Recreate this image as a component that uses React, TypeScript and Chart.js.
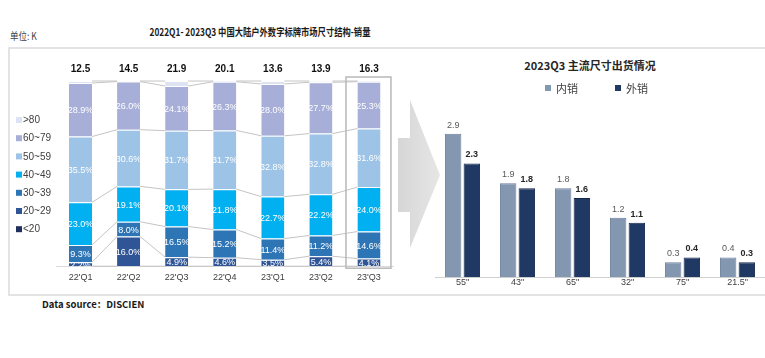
import React, { useEffect, useRef } from 'react';
import { Chart, registerables } from 'chart.js';
Chart.register(...registerables);

// ---------- Left chart data (share %, stacked) ----------
const quarters = ["22'Q1", "22'Q2", "22'Q3", "22'Q4", "23'Q1", "23'Q2", "23'Q3"];
const totals = [12.5, 14.5, 21.9, 20.1, 13.6, 13.9, 16.3];
const sizeLabels = ['<20', '20~29', '30~39', '40~49', '50~59', '60~79', '>80'];
const shareLt20 = [0, 0, 0, 0, 0, 0, 0];
const share20to29 = [2.2, 16.0, 4.9, 4.6, 3.5, 5.4, 4.1];
const share30to39 = [9.3, 8.0, 16.5, 15.2, 11.4, 11.2, 14.6];
const share40to49 = [23.0, 19.1, 20.1, 21.8, 22.7, 22.2, 24.0];
const share50to59 = [35.5, 30.6, 31.7, 31.7, 32.8, 32.8, 31.6];
const share60to79 = [28.9, 26.0, 24.1, 26.3, 28.0, 27.7, 25.3];
const shareGt80 = [1.1, 0.3, 2.7, 0.4, 1.6, 0.7, 0.4];
const sizeColors = ['#1f2f5e', '#2f5597', '#2e75b6', '#00b0f0', '#9dc3e6', '#a7aed8', '#dde3f2'];

// ---------- Right chart data ----------
const mainSizes = ['55"', '43"', '65"', '32"', '75"', '21.5"'];
const domestic = [2.9, 1.9, 1.8, 1.2, 0.3, 0.4];
const exportSales = [2.3, 1.8, 1.6, 1.1, 0.4, 0.3];
const salesLabels = ['内销', '外销'];
const salesColors = ['#8497b0', '#203864'];

const LATIN = '"Liberation Sans", Arial, sans-serif';
const CJK = '"Noto Sans CJK SC", "Liberation Sans", sans-serif';

const leftPlugin = {
  id: 'leftDecor',
  afterDatasetsDraw(chart: any) {
    const ctx = chart.ctx;
    const n = chart.data.datasets.length;
    ctx.save();
    // series connector lines
    ctx.strokeStyle = '#c4c4c4';
    ctx.lineWidth = 1;
    for (let d = 0; d < n; d++) {
      const meta = chart.getDatasetMeta(d);
      for (let i = 0; i < meta.data.length - 1; i++) {
        const a: any = meta.data[i];
        const b: any = meta.data[i + 1];
        ctx.beginPath();
        ctx.moveTo(a.x + a.width / 2, a.y);
        ctx.lineTo(b.x - b.width / 2, b.y);
        ctx.stroke();
      }
    }
    // percentage labels
    ctx.fillStyle = '#ffffff';
    ctx.font = `9px ${LATIN}`;
    ctx.textAlign = 'center';
    ctx.textBaseline = 'middle';
    for (let d = 0; d < n - 1; d++) {
      const meta = chart.getDatasetMeta(d);
      const vals = chart.data.datasets[d].data;
      meta.data.forEach((el: any, i: number) => {
        const v = vals[i];
        if (v >= 2) ctx.fillText(v.toFixed(1) + '%', el.x, (el.y + el.base) / 2 + 1);
      });
    }
    // totals
    const top = chart.getDatasetMeta(n - 1);
    ctx.fillStyle = '#111111';
    ctx.font = `bold 10px ${LATIN}`;
    top.data.forEach((el: any, i: number) => {
      ctx.fillText(totals[i].toFixed(1), el.x, chart.chartArea.top - 12);
    });
    // highlight box on last quarter
    const last: any = top.data[top.data.length - 1];
    ctx.strokeStyle = '#b8b8b8';
    ctx.lineWidth = 1.5;
    ctx.strokeRect(last.x - 23, chart.chartArea.top - 4, 45, chart.chartArea.bottom - chart.chartArea.top + 6);
    // legend (top = largest size)
    ctx.font = `10px ${LATIN}`;
    ctx.textAlign = 'left';
    for (let k = 0; k < n; k++) {
      const d = n - 1 - k;
      const y = chart.chartArea.top + 39 + 18.2 * k;
      ctx.fillStyle = chart.data.datasets[d].backgroundColor;
      ctx.fillRect(8, y - 3, 6, 6);
      ctx.fillStyle = '#404040';
      ctx.fillText(chart.data.datasets[d].label, 15, y + 0.5);
    }
    ctx.restore();
  },
};

const rightPlugin = {
  id: 'rightDecor',
  afterDatasetsDraw(chart: any) {
    const ctx = chart.ctx;
    ctx.save();
    ctx.textAlign = 'center';
    ctx.textBaseline = 'bottom';
    chart.data.datasets.forEach((ds: any, d: number) => {
      const meta = chart.getDatasetMeta(d);
      ctx.font = d === 0 ? `9px ${LATIN}` : `bold 9px ${LATIN}`;
      ctx.fillStyle = d === 0 ? '#595959' : '#262626';
      meta.data.forEach((el: any, i: number) => {
        ctx.fillText(ds.data[i].toFixed(1), el.x, el.y - 4);
      });
    });
    ctx.restore();
  },
};

export default function App() {
  const leftRef = useRef<HTMLCanvasElement>(null);
  const rightRef = useRef<HTMLCanvasElement>(null);

  useEffect(() => {
    const shares = [shareLt20, share20to29, share30to39, share40to49, share50to59, share60to79, shareGt80];
    const left = new Chart(leftRef.current!, {
      type: 'bar',
      data: {
        labels: quarters,
        datasets: sizeLabels.map((lab, k) => ({
          label: lab,
          data: shares[k],
          backgroundColor: sizeColors[k],
          borderColor: 'rgba(255,255,255,0.85)',
          borderWidth: { top: 1 },
          borderSkipped: false,
          barPercentage: 0.48,
          categoryPercentage: 1,
        })),
      },
      options: {
        animation: false,
        responsive: false,
        maintainAspectRatio: false,
        layout: { padding: { top: 29, bottom: 0, left: 48.5, right: 7 } },
        plugins: {
          legend: { display: false },
          tooltip: { enabled: false },
          title: { display: false },
        },
        scales: {
          x: {
            stacked: true,
            grid: { display: false, drawTicks: false },
            border: { display: true, color: '#d9d9d9' },
            ticks: { color: '#404040', padding: 6, font: { size: 9, family: LATIN } },
          },
          y: { stacked: true, min: 0, max: 100, display: false },
        },
      },
      plugins: [leftPlugin],
    } as any);

    const right = new Chart(rightRef.current!, {
      type: 'bar',
      data: {
        labels: mainSizes,
        datasets: [
          {
            label: salesLabels[0],
            data: domestic,
            backgroundColor: salesColors[0],
            borderColor: '#6b7f9c',
            borderWidth: 1,
            barPercentage: 0.88,
            categoryPercentage: 0.68,
          },
          {
            label: salesLabels[1],
            data: exportSales,
            backgroundColor: salesColors[1],
            borderColor: '#16284a',
            borderWidth: 1,
            barPercentage: 0.88,
            categoryPercentage: 0.68,
          },
        ],
      },
      options: {
        animation: false,
        responsive: false,
        maintainAspectRatio: false,
        layout: { padding: { top: 9, bottom: 9, left: 15, right: 0 } },
        plugins: { legend: { display: false }, tooltip: { enabled: false }, title: { display: false } },
        scales: {
          x: {
            grid: { display: false, drawTicks: false },
            border: { display: true, color: '#d0d0d0' },
            ticks: { color: '#404040', padding: 0, font: { size: 9, family: LATIN } },
          },
          y: { min: 0, max: 3.5, display: false },
        },
      },
      plugins: [rightPlugin],
    } as any);

    return () => {
      left.destroy();
      right.destroy();
    };
  }, []);

  const abs = (s: React.CSSProperties): React.CSSProperties => ({ position: 'absolute', ...s });

  return (
    <div style={{ position: 'fixed', left: 0, top: 0, width: 765, height: 358, background: '#ffffff', overflow: 'hidden' }}>
      {/* frame lines */}
      <div style={abs({ left: 8, top: 47, width: 757, height: 2, background: '#e3e3e3' })} />
      <div style={abs({ left: 8, top: 47, width: 2, height: 248, background: '#e3e3e3' })} />
      <div style={abs({ left: 8, top: 294, width: 757, height: 2, background: '#e3e3e3' })} />

      <div style={abs({ left: 10, top: 28, fontFamily: CJK, fontSize: 10, color: '#404040', transform: 'scaleX(0.85)', transformOrigin: 'left center' })}>单位: K</div>
      <div style={abs({ left: 0, top: 24, width: 520, textAlign: 'center', fontFamily: CJK, fontWeight: 'bold', fontSize: 10.5, color: '#1a1a1a', transform: 'scaleX(0.79)', transformOrigin: 'center center', whiteSpace: 'nowrap' })}>
        2022Q1- 2023Q3 中国大陆户外数字标牌市场尺寸结构-销量
      </div>

      <canvas ref={leftRef} width={392} height={237} style={abs({ left: 8, top: 52, width: 392, height: 237 })} />

      <svg width={60} height={170} style={abs({ left: 392, top: 90 })}>
        <defs>
          <linearGradient id="arrowGrad" x1="0" y1="0" x2="1" y2="0">
            <stop offset="0" stopColor="#d6d6d6" />
            <stop offset="1" stopColor="#e6e6e6" />
          </linearGradient>
        </defs>
        <polygon points="6,48 18,48 18,10 48,85 18,158 18,122 6,122" fill="url(#arrowGrad)" />
      </svg>

      <div style={abs({ left: 420, top: 57, width: 340, textAlign: 'center', fontFamily: CJK, fontWeight: 'bold', fontSize: 11, color: '#262626' })}>
        2023Q3 主流尺寸出货情况
      </div>
      <div style={abs({ left: 545, top: 80, display: 'flex', alignItems: 'center', fontFamily: CJK, fontSize: 11, color: '#404040' })}>
        <span style={{ width: 6, height: 6, background: salesColors[0], display: 'inline-block', marginRight: 5 }} />
        <span>{salesLabels[0]}</span>
        <span style={{ width: 6, height: 6, background: salesColors[1], display: 'inline-block', marginLeft: 37, marginRight: 5 }} />
        <span>{salesLabels[1]}</span>
      </div>

      <canvas ref={rightRef} width={345} height={202} style={abs({ left: 420, top: 95, width: 345, height: 202 })} />

      <div style={abs({ left: 42, top: 297, fontFamily: CJK, fontWeight: 'bold', fontSize: 9.5, color: '#1a1a1a' })}>
        Data source：DISCIEN
      </div>
    </div>
  );
}
